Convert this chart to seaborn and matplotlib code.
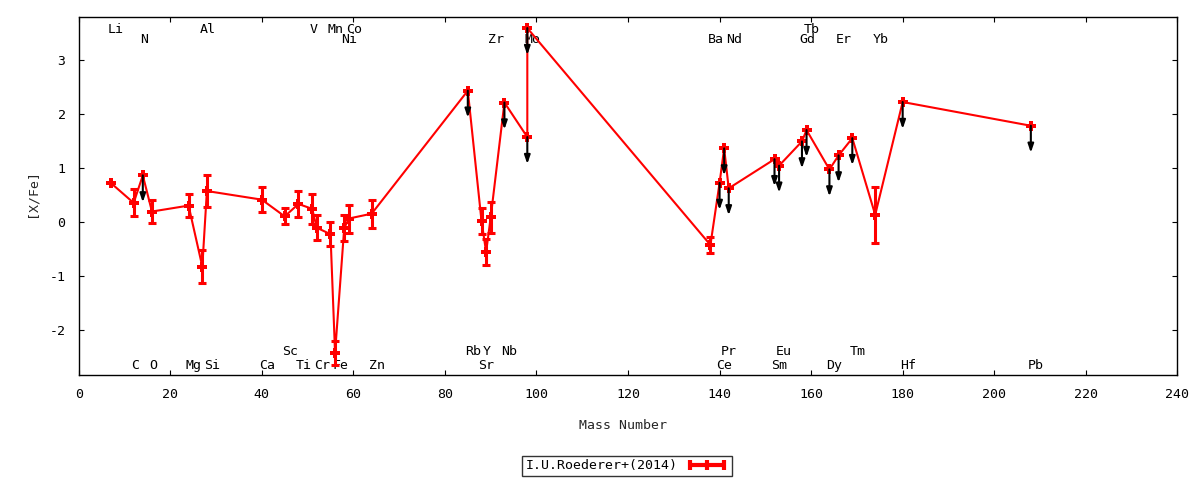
import numpy as np
import pandas as pd
import matplotlib
matplotlib.use("Agg")
import matplotlib.pyplot as plt
import seaborn as sns
from matplotlib.lines import Line2D

nan = np.nan

# ---- data ----
elements = ["Li", "C", "N", "O", "Mg", "Al", "Si", "Ca", "Sc", "Ti", "V", "Cr", "Mn", "Fe",
            "Ni", "Co", "Zn", "Rb", "Sr", "Y", "Zr", "Nb", "Mo", "Mo", "Ba", "Ce", "Pr",
            "Nd", "Sm", "Eu", "Gd", "Tb", "Dy", "Er", "Tm", "Yb", "Hf", "Pb"]
mass = [7, 12, 14, 16, 24, 27, 28, 40, 45, 48, 51, 52, 55, 56,
        58, 59, 64, 85, 88, 89, 90, 93, 98, 98, 138, 140, 141,
        142, 152, 153, 158, 159, 164, 166, 169, 174, 180, 208]
x_fe = [0.73, 0.36, 0.87, 0.20, 0.31, -0.82, 0.58, 0.42, 0.11, 0.34, 0.25, -0.10, -0.22, -2.42,
        -0.11, 0.07, 0.16, 2.44, 0.02, -0.55, 0.09, 2.22, 1.58, 3.60, -0.42, 0.73, 1.37,
        0.63, 1.17, 1.05, 1.50, 1.71, 0.98, 1.24, 1.56, 0.14, 2.23, 1.79]
x_fe_err = [nan, 0.25, nan, 0.22, 0.22, 0.30, 0.29, 0.23, 0.15, 0.24, 0.28, 0.23, 0.22, 0.22,
            0.24, 0.26, 0.26, nan, 0.24, 0.24, 0.28, nan, nan, nan, 0.15, nan, nan,
            nan, nan, nan, nan, nan, nan, nan, nan, 0.52, nan, nan]
upper_limit = [0, 0, 1, 0, 0, 0, 0, 0, 0, 0, 0, 0, 0, 0,
               0, 0, 0, 1, 0, 0, 0, 1, 1, 1, 0, 1, 1,
               1, 1, 1, 1, 1, 1, 1, 1, 0, 1, 1]

# element labels: text, mass position, row (0/1 top, 2/3 bottom)
label_text = ["Li", "C", "N", "O", "Mg", "Al", "Si", "Ca", "Sc", "Ti", "V", "Cr", "Mn", "Fe",
              "Ni", "Co", "Zn", "Rb", "Sr", "Y", "Zr", "Nb", "Mo", "Ba", "Ce", "Pr",
              "Nd", "Sm", "Eu", "Gd", "Tb", "Dy", "Er", "Tm", "Yb", "Hf", "Pb"]
label_mass = [7, 12, 14, 16, 24, 27, 28, 40, 45, 48, 51, 52, 55, 56,
              58, 59, 64, 85, 88, 89, 90, 93, 98, 138, 140, 141,
              142, 152, 153, 158, 159, 164, 166, 169, 174, 180, 208]
label_row = [0, 3, 1, 3, 3, 0, 3, 3, 2, 3, 0, 3, 0, 3,
             1, 0, 3, 2, 3, 2, 1, 2, 1, 1, 3, 2,
             1, 3, 2, 1, 0, 3, 1, 2, 1, 3, 3]

x_ticks = [0, 20, 40, 60, 80, 100, 120, 140, 160, 180, 200, 220, 240]
y_ticks = [-2, -1, 0, 1, 2, 3]
series_name = "I.U.Roederer+(2014)"
x_title = "Mass Number"
y_title = "[X/Fe]"

df = pd.DataFrame({"mass": mass, "xfe": x_fe, "err": x_fe_err, "ul": upper_limit})

# ---- style ----
sns.set_theme(style="white")
FONT = ["DejaVu Sans Mono", "DejaVu Sans"]
plt.rcParams["font.family"] = FONT
plt.rcParams["font.size"] = 9.5
plt.rcParams["axes.unicode_minus"] = False
plt.rcParams["axes.linewidth"] = 1.0
plt.rcParams["axes.edgecolor"] = "black"
plt.rcParams["text.color"] = "black"
plt.rcParams["xtick.color"] = "black"
plt.rcParams["ytick.color"] = "black"

fig = plt.figure(figsize=(12, 4.8), dpi=100)
ax = fig.add_axes([0.0656, 0.21875, 0.9155, 0.7452])

RED = "#ff0000"
sns.lineplot(data=df, x="mass", y="xfe", sort=False, estimator=None, color=RED,
             lw=1.5, ax=ax, zorder=3, legend=False)

ax.errorbar(df["mass"], df["xfe"], yerr=df["err"], fmt="none", ecolor=RED,
            elinewidth=2.2, capsize=3, capthick=2.2, zorder=4)
ax.plot(df["mass"], df["xfe"], ls="none", marker="P", ms=7, color=RED,
        mec=RED, mew=0, zorder=5)

ARROW_LEN = 0.5
for _, r in df[df["ul"] == 1].iterrows():
    ax.annotate("", xy=(r["mass"], r["xfe"] - ARROW_LEN), xytext=(r["mass"], r["xfe"]),
                arrowprops=dict(arrowstyle="-|>,head_length=0.5,head_width=0.17",
                                color="black", lw=1.5, mutation_scale=10,
                                shrinkA=0, shrinkB=0),
                zorder=6)

row_y = [0.9553, 0.9273, 0.0559, 0.0168]
for t, m, rw in zip(label_text, label_mass, label_row):
    ax.annotate(t, xy=(m, row_y[rw]), xycoords=("data", "axes fraction"),
                xytext=(-3 * 0.72, 0), textcoords="offset points",
                ha="left", va="baseline", fontsize=9.5, zorder=2)

ax.set_xlim(0, 240)
ax.set_ylim(-2.83, 3.80)
ax.set_xticks(x_ticks)
ax.set_yticks(y_ticks)
ax.tick_params(direction="in", length=3.6, width=0.8, top=True, right=True,
               bottom=True, left=True, labelsize=9.5)
ax.tick_params(axis="x", pad=9.5)
ax.tick_params(axis="y", pad=9.5)
for s in ax.spines.values():
    s.set_visible(True)
    s.set_color("black")
    s.set_linewidth(1.0)

ax.set_xlabel(x_title, fontsize=9.5)
ax.set_ylabel(y_title, fontsize=9.5)
ax.xaxis.set_label_coords(0.495, -0.123)
ax.yaxis.set_label_coords(-0.037, 0.51)
ax.grid(False)

handle = Line2D([], [], color=RED, lw=3, marker="|", ms=7, mew=3)
leg = fig.legend([handle], [series_name], loc="center",
                 bbox_to_anchor=(627 / 1200, 1 - 466 / 480), markerfirst=False,
                 numpoints=3, handlelength=3.2, handletextpad=0.6, borderpad=0.3,
                 frameon=True, fancybox=False, edgecolor="black", fontsize=9.5,
                 borderaxespad=0)
leg.get_frame().set_linewidth(1.0)

fig.savefig("out.png", dpi=100, facecolor="white")
